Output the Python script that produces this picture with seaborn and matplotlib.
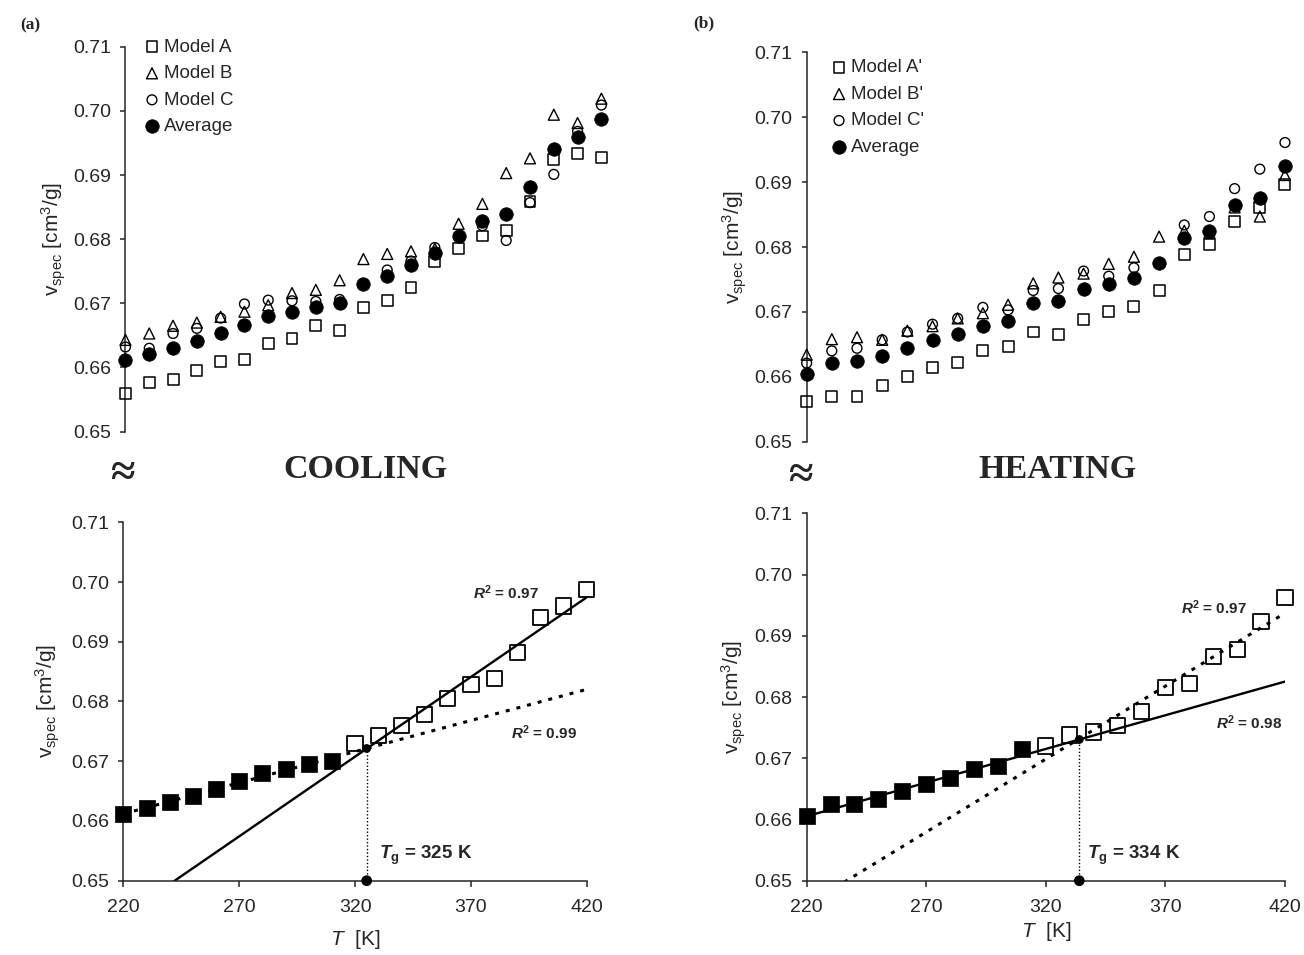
import numpy as np
import pandas as pd
import matplotlib
matplotlib.use("Agg")
import matplotlib.pyplot as plt
import seaborn as sns

# ---------------- data ----------------
T_cool = [220, 230, 240, 250, 260, 270, 280, 290, 300, 310, 320,
          330, 340, 350, 360, 370, 380, 390, 400, 410, 420]
cool_A = [0.6559, 0.6577, 0.6582, 0.6595, 0.6610, 0.6612, 0.6637, 0.6645, 0.6666, 0.6658, 0.6694,
          0.6704, 0.6725, 0.6765, 0.6786, 0.6805, 0.6813, 0.6858, 0.6924, 0.6934, 0.6928]
cool_B = [0.6643, 0.6653, 0.6665, 0.6670, 0.6679, 0.6687, 0.6697, 0.6716, 0.6721, 0.6736, 0.6769,
          0.6777, 0.6781, 0.6785, 0.6824, 0.6855, 0.6903, 0.6926, 0.6994, 0.6981, 0.7019]
cool_C = [0.6632, 0.6630, 0.6653, 0.6661, 0.6677, 0.6699, 0.6705, 0.6704, 0.6703, 0.6706, 0.6731,
          0.6752, 0.6766, 0.6787, 0.6804, 0.6821, 0.6798, 0.6857, 0.6901, 0.6968, 0.7009]
cool_avg = [0.6612, 0.6621, 0.6631, 0.6641, 0.6654, 0.6667, 0.6680, 0.6687, 0.6695, 0.6700, 0.6730,
            0.6743, 0.6760, 0.6778, 0.6805, 0.6828, 0.6839, 0.6882, 0.6940, 0.6960, 0.6987]

T_heat_top = [220, 230, 240, 250, 260, 270, 280, 290, 300, 310,
              320, 330, 340, 350, 360, 370, 380, 390, 400, 410]
heat_A = [0.6562, 0.6570, 0.6570, 0.6586, 0.6600, 0.6614, 0.6622, 0.6640, 0.6646, 0.6669,
          0.6665, 0.6688, 0.6701, 0.6709, 0.6733, 0.6788, 0.6804, 0.6840, 0.6861, 0.6897]
heat_B = [0.6634, 0.6658, 0.6661, 0.6657, 0.6671, 0.6678, 0.6690, 0.6698, 0.6711, 0.6744,
          0.6753, 0.6759, 0.6774, 0.6785, 0.6816, 0.6825, 0.6822, 0.6861, 0.6847, 0.6911]
heat_C = [0.6621, 0.6640, 0.6644, 0.6657, 0.6669, 0.6681, 0.6690, 0.6707, 0.6703, 0.6733,
          0.6736, 0.6763, 0.6755, 0.6768, 0.6776, 0.6834, 0.6847, 0.6890, 0.6920, 0.6961]
heat_avg = [0.6604, 0.6622, 0.6625, 0.6632, 0.6645, 0.6656, 0.6666, 0.6679, 0.6686, 0.6714,
            0.6717, 0.6736, 0.6743, 0.6752, 0.6776, 0.6814, 0.6824, 0.6864, 0.6875, 0.6925]

T_heat = [220, 230, 240, 250, 260, 270, 280, 290, 300, 310, 320,
          330, 340, 350, 360, 370, 380, 390, 400, 410, 420]
heat_avg_fit = [0.6606, 0.6625, 0.6626, 0.6633, 0.6647, 0.6658, 0.6667, 0.6682, 0.6688, 0.6715, 0.6720,
                0.6738, 0.6743, 0.6754, 0.6776, 0.6815, 0.6822, 0.6866, 0.6877, 0.6923, 0.6962]

T_split = 320           # first "rubbery" temperature
Tg_values = [325, 334]  # cooling, heating
r2_cool = ["0.97", "0.99"]   # rubbery, glassy
r2_heat = ["0.97", "0.98"]   # rubbery, glassy
y_ticks = [0.65, 0.66, 0.67, 0.68, 0.69, 0.70, 0.71]
x_ticks = [220, 270, 320, 370, 420]

# ---------------- style ----------------
sns.set_style("ticks")
plt.rcParams["font.family"] = ["Liberation Sans", "DejaVu Sans"]
plt.rcParams["mathtext.fontset"] = "custom"
plt.rcParams["mathtext.rm"] = "Liberation Sans"
plt.rcParams["mathtext.it"] = "Liberation Sans:italic"
plt.rcParams["mathtext.bf"] = "Liberation Sans:bold"
plt.rcParams["mathtext.bfit"] = "Liberation Sans:italic:bold"
plt.rcParams["axes.linewidth"] = 1.1
plt.rcParams["xtick.major.width"] = 1.1
plt.rcParams["ytick.major.width"] = 1.1
plt.rcParams["xtick.major.size"] = 4.0
plt.rcParams["ytick.major.size"] = 3.3
plt.rcParams["ytick.major.pad"] = 7
plt.rcParams["xtick.major.pad"] = 9

fig = plt.figure(figsize=(13.04, 9.55), dpi=100)
fig.patch.set_facecolor("white")

W, H = 1304, 955
ax_ta = fig.add_axes([0.0962, 0.5480, 0.3650, 0.4031])
ax_tb = fig.add_axes([0.6186, 0.5375, 0.3668, 0.4077])
ax_ba = fig.add_axes([0.0946, 0.0778, 0.3554, 0.3753])
ax_bb = fig.add_axes([0.6186, 0.0778, 0.3668, 0.3847])

TICK_FS = 14
LABEL_FS = 15
ylabel = r"$\mathrm{v}_{\mathrm{spec}}$ [cm$^{3}$/g]"


def style_y(ax, label_offset_px):
    ax.set_ylim(0.65, 0.71)
    ax.set_yticks(y_ticks)
    ax.set_yticklabels([f"{v:.2f}" for v in y_ticks], fontsize=TICK_FS)
    ax.set_ylabel(ylabel, fontsize=LABEL_FS)
    w_px = ax.get_position().width * W
    ax.yaxis.set_label_coords(-label_offset_px / w_px, 0.5)
    ax.set_facecolor("white")


def top_panel(ax, T, a, b, c, avg, labels, xmax, leg_anchor, lab_off):
    df = pd.DataFrame({"T": T, "A": a, "B": b, "C": c, "avg": avg})
    sns.scatterplot(data=df, x="T", y="A", ax=ax, marker="s", s=62,
                    facecolor="none", edgecolor="black", linewidth=1.1,
                    label=labels[0], clip_on=False, zorder=3)
    sns.scatterplot(data=df, x="T", y="B", ax=ax, marker="^", s=62,
                    facecolor="none", edgecolor="black", linewidth=1.0,
                    label=labels[1], clip_on=False, zorder=3)
    sns.scatterplot(data=df, x="T", y="C", ax=ax, marker="o", s=50,
                    facecolor="none", edgecolor="black", linewidth=1.0,
                    label=labels[2], clip_on=False, zorder=3)
    sns.scatterplot(data=df, x="T", y="avg", ax=ax, marker="o", s=95,
                    color="black", edgecolor="black", linewidth=0.5,
                    label=labels[3], clip_on=False, zorder=4)
    ax.set_xlim(220, xmax)
    style_y(ax, lab_off)
    ax.set_xlabel("")
    ax.set_xticks([])
    for s in ["top", "right", "bottom"]:
        ax.spines[s].set_visible(False)
    ax.legend(loc="upper left", bbox_to_anchor=leg_anchor, frameon=False,
              fontsize=13.5, handlelength=0.8, handletextpad=0.25,
              labelspacing=0.5, borderpad=0, borderaxespad=0)


top_panel(ax_ta, T_cool, cool_A, cool_B, cool_C, cool_avg,
          ["Model A", "Model B", "Model C", "Average"], 420, (0.040, 1.021), 57)
top_panel(ax_tb, T_heat_top, heat_A, heat_B, heat_C, heat_avg,
          ["Model A'", "Model B'", "Model C'", "Average"], 410, (0.052, 0.982), 58)


def bottom_panel(ax, T, avg, Tg, glassy_style, rubbery_style, r2, r2_pos, tg_pos,
                 lab_off, xlab_pad):
    T = np.asarray(T, float)
    avg = np.asarray(avg, float)
    glass = T < T_split
    df = pd.DataFrame({"T": T, "v": avg, "phase": np.where(glass, "g", "r")})
    # linear fits of the glassy and rubbery branches
    pg = np.polyfit(T[glass], avg[glass], 1)
    pr = np.polyfit(T[~glass], avg[~glass], 1)
    xs = np.array([T.min(), T.max()])
    ax.plot(xs, np.polyval(pg, xs), color="black", zorder=2, **glassy_style)
    ax.plot(xs, np.polyval(pr, xs), color="black", zorder=2, **rubbery_style)
    sns.scatterplot(data=df[df.phase == "g"], x="T", y="v", ax=ax, marker="s", s=120,
                    color="black", edgecolor="black", linewidth=0.5,
                    clip_on=False, zorder=4, legend=False)
    sns.scatterplot(data=df[df.phase == "r"], x="T", y="v", ax=ax, marker="s", s=120,
                    facecolor="none", edgecolor="black", linewidth=1.3,
                    clip_on=False, zorder=4, legend=False)
    # Tg marker
    yg = np.polyval(pg, Tg)
    ax.plot([Tg, Tg], [0.65, yg], color="black", lw=1.0, ls=(0, (1, 1.5)), zorder=3)
    ax.scatter([Tg, Tg], [0.65, yg], s=[45, 28], color="black", zorder=5, clip_on=False)
    ax.set_xlim(220, 420)
    ax.set_xticks(x_ticks)
    ax.set_xticklabels([str(v) for v in x_ticks], fontsize=TICK_FS)
    style_y(ax, lab_off)
    ax.set_xlabel(r"$\mathit{T}$  [K]", fontsize=LABEL_FS, labelpad=xlab_pad)
    for s in ["top", "right"]:
        ax.spines[s].set_visible(False)
    ax.text(r2_pos[0][0], r2_pos[0][1], r"$\mathbfit{R}^{\mathbf{2}}$ = " + r2[0],
            fontsize=11, fontweight="bold", va="center", ha="left")
    ax.text(r2_pos[1][0], r2_pos[1][1], r"$\mathbfit{R}^{\mathbf{2}}$ = " + r2[1],
            fontsize=11, fontweight="bold", va="center", ha="left")
    ax.text(tg_pos[0], tg_pos[1], r"$\mathbfit{T}_{\mathbf{g}}$ = " + f"{Tg} K",
            fontsize=13.5, fontweight="bold", va="center", ha="left")


solid = dict(lw=1.7, ls="-")
dotted = dict(lw=2.2, ls=(0, (1.3, 2.3)))

bottom_panel(ax_ba, T_cool, cool_avg, Tg_values[0], glassy_style=dotted, rubbery_style=solid,
             r2=r2_cool, r2_pos=[(371, 0.6982), (387.5, 0.6747)], tg_pos=(330.5, 0.6543),
             lab_off=61, xlab_pad=9)
bottom_panel(ax_bb, T_heat, heat_avg_fit, Tg_values[1], glassy_style=solid, rubbery_style=dotted,
             r2=r2_heat, r2_pos=[(376.5, 0.6946), (391, 0.6758)], tg_pos=(337.2, 0.6542),
             lab_off=59, xlab_pad=3)

# ---------------- figure texts ----------------
serif = ["Liberation Serif", "DejaVu Serif"]
fig.text(30 / W, 1 - 25 / H, "(a)", family=serif, fontweight="bold", fontsize=12.5,
         ha="center", va="center")
fig.text(704 / W, 1 - 23 / H, "(b)", family=serif, fontweight="bold", fontsize=12.5,
         ha="center", va="center")
fig.text(365 / W, 1 - 470 / H, "COOLING", family=serif, fontweight="bold", fontsize=24.5,
         ha="center", va="center")
fig.text(1057 / W, 1 - 470 / H, "HEATING", family=serif, fontweight="bold", fontsize=24.5,
         ha="center", va="center")
fig.text(122 / W, 1 - 474 / H, "\u2248", family=serif, fontweight="bold", fontsize=32,
         ha="center", va="center")
fig.text(800 / W, 1 - 476 / H, "\u2248", family=serif, fontweight="bold", fontsize=32,
         ha="center", va="center")

fig.savefig("out.png", dpi=100, facecolor="white")
